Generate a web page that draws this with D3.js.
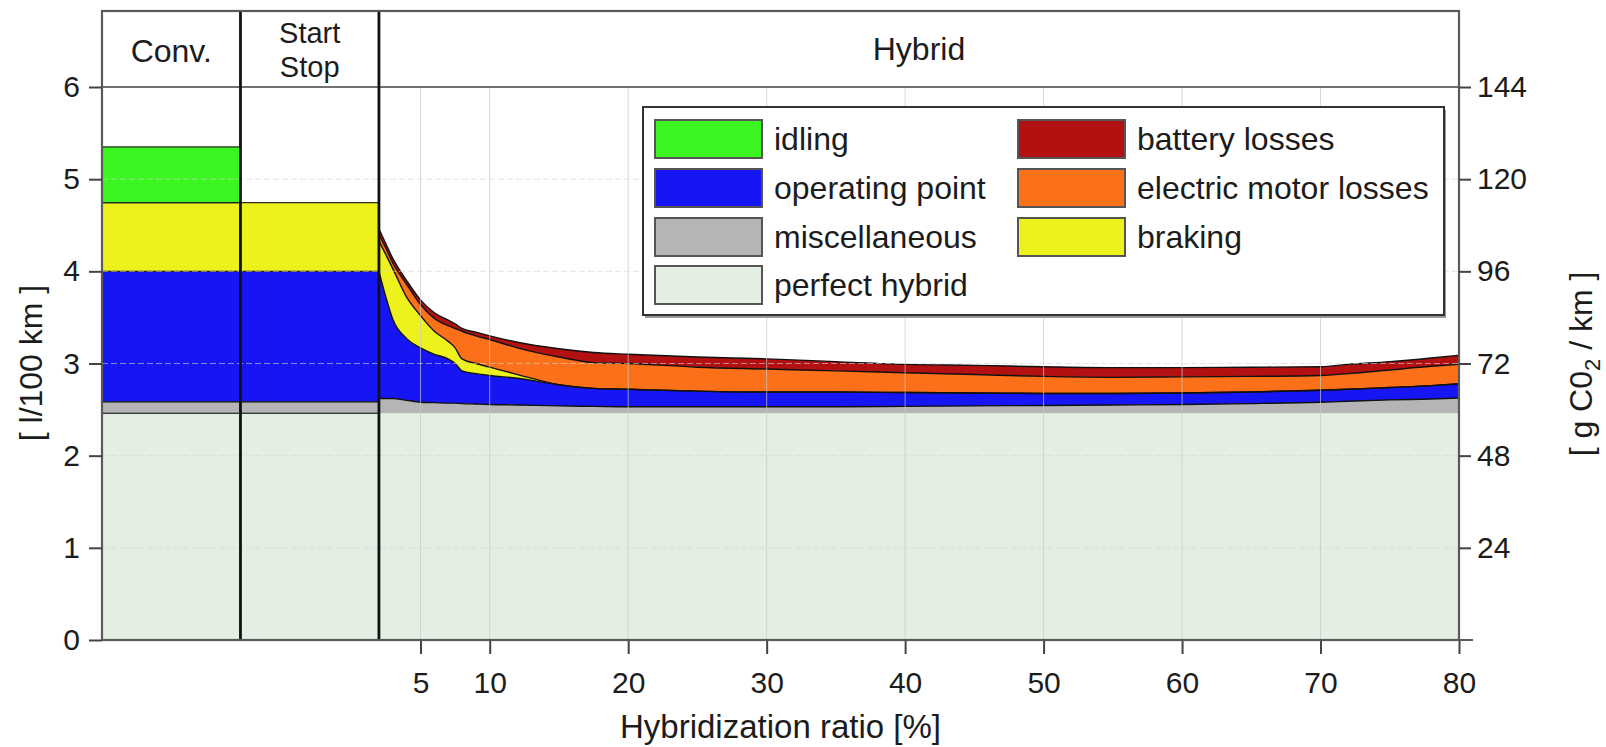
<!DOCTYPE html>
<html>
<head>
<meta charset="utf-8">
<script src="https://cdn.jsdelivr.net/npm/d3@7"></script>
<style>
  body { margin: 0; background: #fff; }
  text { font-family: "Liberation Sans", Arial, sans-serif; fill: #1c1c1c; }
</style>
</head>
<body>
<svg id="chart" width="1606" height="747"></svg>
<script>
// Conventional and start/stop vehicles (l/100 km per component)
const blockNames = ["Conv.", "Start Stop"];
const blockPerfect = [2.46, 2.46];
const blockMisc = [0.125, 0.125];
const blockOperating = [1.415, 1.415];
const blockBraking = [0.745, 0.745];
const blockIdling = [0.605, 0];

// Hybrid vehicles over hybridization ratio [%]
const hybridRatio = [2, 2.5, 3, 4, 5, 6, 7, 7.5, 8, 9, 10, 12, 15, 17.5, 20, 25, 30, 35, 40, 45, 50, 55, 60, 65, 70, 72, 75, 78, 80];
const perfectHybrid = [2.46, 2.46, 2.46, 2.46, 2.46, 2.46, 2.46, 2.46, 2.46, 2.46, 2.46, 2.46, 2.46, 2.46, 2.46, 2.46, 2.46, 2.46, 2.46, 2.46, 2.46, 2.46, 2.46, 2.46, 2.46, 2.46, 2.46, 2.46, 2.46];
const miscellaneous = [0.16, 0.16, 0.16, 0.14, 0.12, 0.115, 0.11, 0.11, 0.105, 0.10, 0.095, 0.09, 0.08, 0.075, 0.07, 0.07, 0.07, 0.07, 0.075, 0.08, 0.085, 0.09, 0.095, 0.105, 0.12, 0.13, 0.145, 0.155, 0.165];
const operatingPoint = [1.38, 1.10, 0.86, 0.67, 0.59, 0.525, 0.48, 0.43, 0.355, 0.33, 0.315, 0.29, 0.23, 0.195, 0.19, 0.17, 0.16, 0.16, 0.15, 0.14, 0.13, 0.125, 0.125, 0.125, 0.13, 0.13, 0.135, 0.145, 0.155];
const braking = [0.33, 0.46, 0.55, 0.45, 0.35, 0.25, 0.19, 0.17, 0.13, 0.11, 0.09, 0.04, 0, 0, 0, 0, 0, 0, 0, 0, 0, 0, 0, 0, 0, 0, 0, 0, 0];
const motorLosses = [0.07, 0.07, 0.06, 0.14, 0.12, 0.14, 0.17, 0.21, 0.30, 0.30, 0.30, 0.29, 0.30, 0.28, 0.28, 0.26, 0.25, 0.23, 0.215, 0.20, 0.185, 0.175, 0.175, 0.17, 0.16, 0.17, 0.19, 0.21, 0.21];
const batteryLosses = [0.06, 0.05, 0.05, 0.04, 0.05, 0.06, 0.06, 0.05, 0.03, 0.04, 0.04, 0.06, 0.09, 0.11, 0.10, 0.11, 0.11, 0.10, 0.09, 0.10, 0.105, 0.105, 0.10, 0.10, 0.095, 0.10, 0.09, 0.09, 0.10];

const xTicks = [5, 10, 20, 30, 40, 50, 60, 70, 80];
const yTicks = [0, 1, 2, 3, 4, 5, 6];
const co2Ticks = [24, 48, 72, 96, 120, 144];

const colors = {
    perfect: '#e3efe3',
    misc: '#b5b5b5',
    operating: '#1616f4',
    braking: '#eef21c',
    motor: '#fb7019',
    battery: '#b31111',
    idling: '#3af520'
};

const svg = d3.select('#chart');
const font = '"Liberation Sans", Arial, sans-serif';

// x runs -18..2 for the two reference blocks, 2..80 for hybrids
const x = d3.scaleLinear().domain([-18, 80]).range([102, 1459]);
const y = d3.scaleLinear().domain([0, 6]).range([640, 87]);
const yCo2 = d3.scaleLinear().domain([0, 144]).range([640, 87]);
const plotTop = 11;
const block = d3.scaleBand().domain(blockNames).range([x(-18), x(2)]);

// --- reference blocks
const blockLayers = [
    { key: 'perfect', values: blockPerfect },
    { key: 'misc', values: blockMisc },
    { key: 'operating', values: blockOperating },
    { key: 'braking', values: blockBraking },
    { key: 'idling', values: blockIdling }
];
const gBlocks = svg.append('g');
blockNames.forEach((name, i) => {
    let base = 0;
    blockLayers.forEach(layer => {
        const v = layer.values[i];
        if (v > 0) {
            gBlocks.append('rect')
                .attr('x', block(name))
                .attr('width', block.bandwidth())
                .attr('y', y(base + v))
                .attr('height', y(base) - y(base + v))
                .attr('fill', colors[layer.key])
                .attr('stroke', layer.key === 'perfect' ? 'none' : '#222')
                .attr('stroke-width', 1.2);
        }
        base += v;
    });
});

// --- hybrid stacked areas
const keys = ['perfect', 'misc', 'operating', 'braking', 'motor', 'battery'];
const table = hybridRatio.map((h, i) => ({
    h: h,
    perfect: perfectHybrid[i],
    misc: miscellaneous[i],
    operating: operatingPoint[i],
    braking: braking[i],
    motor: motorLosses[i],
    battery: batteryLosses[i]
}));
const stacked = d3.stack().keys(keys)(table);

const area = d3.area()
    .x(d => x(d.data.h))
    .y0(d => y(d[0]))
    .y1(d => y(d[1]))
    .curve(d3.curveMonotoneX);
const topLine = d3.line()
    .x(d => x(d.data.h))
    .y(d => y(d[1]))
    .curve(d3.curveMonotoneX);

svg.append('g').selectAll('path')
    .data(stacked)
    .join('path')
    .attr('d', area)
    .attr('fill', d => colors[d.key]);

svg.append('g').selectAll('path')
    .data(stacked.filter(s => s.key !== 'perfect'))
    .join('path')
    .attr('d', topLine)
    .attr('fill', 'none')
    .attr('stroke', '#111')
    .attr('stroke-width', 1.4)
    .attr('stroke-linejoin', 'round');

// --- grid
const grid = svg.append('g');
grid.selectAll('line.v')
    .data(xTicks.filter(t => t < 80))
    .join('line')
    .attr('x1', d => x(d)).attr('x2', d => x(d))
    .attr('y1', y(6)).attr('y2', y(0))
    .attr('stroke', '#c8c8c8')
    .attr('stroke-opacity', 0.7)
    .attr('stroke-width', 1);
grid.selectAll('line.h')
    .data(yTicks.filter(t => t > 0 && t < 6))
    .join('line')
    .attr('x1', x(-18)).attr('x2', x(80))
    .attr('y1', d => y(d)).attr('y2', d => y(d))
    .attr('stroke', '#d4d4d4')
    .attr('stroke-opacity', 0.6)
    .attr('stroke-dasharray', '6,3')
    .attr('stroke-width', 1);

// header separator at 6 l/100 km
svg.append('line')
    .attr('x1', x(-18)).attr('x2', x(80))
    .attr('y1', y(6)).attr('y2', y(6))
    .attr('stroke', '#707070')
    .attr('stroke-width', 2.2);

// section dividers
svg.append('g').selectAll('line')
    .data([-8, 2])
    .join('line')
    .attr('x1', d => x(d)).attr('x2', d => x(d))
    .attr('y1', plotTop).attr('y2', y(0))
    .attr('stroke', '#111')
    .attr('stroke-width', 2.8);

// plot frame
svg.append('rect')
    .attr('x', x(-18)).attr('y', plotTop)
    .attr('width', x(80) - x(-18))
    .attr('height', y(0) - plotTop)
    .attr('fill', 'none')
    .attr('stroke', '#5a5a5a')
    .attr('stroke-width', 2.2);

// --- axes
function styleAxis(g, size) {
    g.select('.domain').remove();
    g.selectAll('.tick line').attr('stroke', '#444').attr('stroke-width', 2);
    g.selectAll('.tick text')
        .attr('font-family', font)
        .attr('font-size', size)
        .attr('fill', '#1c1c1c');
}

svg.append('g')
    .attr('transform', `translate(${x(-18)},0)`)
    .call(d3.axisLeft(y).tickValues(yTicks).tickFormat(d3.format('d')).tickSize(13).tickPadding(9))
    .call(g => styleAxis(g, 30));

svg.append('g')
    .attr('transform', `translate(${x(80)},0)`)
    .call(d3.axisRight(yCo2).tickValues(co2Ticks).tickFormat(d3.format('d')).tickSize(12).tickPadding(6))
    .call(g => styleAxis(g, 30));

svg.append('g')
    .attr('transform', `translate(0,${y(0)})`)
    .call(d3.axisBottom(x).tickValues(xTicks).tickFormat(d3.format('d')).tickSize(14).tickPadding(18))
    .call(g => styleAxis(g, 30));

// bottom axis line runs a little past the frame
svg.append('line')
    .attr('x1', x(-18)).attr('x2', x(80) + 14)
    .attr('y1', y(0)).attr('y2', y(0))
    .attr('stroke', '#5a5a5a')
    .attr('stroke-width', 2.2);

// --- axis titles
svg.append('text')
    .attr('x', (x(-18) + x(80)) / 2)
    .attr('y', 738)
    .attr('text-anchor', 'middle')
    .attr('font-size', 33)
    .text('Hybridization ratio [%]');

svg.append('text')
    .attr('transform', 'translate(42,363) rotate(-90)')
    .attr('text-anchor', 'middle')
    .attr('font-size', 32)
    .attr('xml:space', 'preserve')
    .text('[ l/100 km ]');

const co2Title = svg.append('text')
    .attr('transform', 'translate(1592,364) rotate(-90)')
    .attr('text-anchor', 'middle')
    .attr('font-size', 32);
co2Title.append('tspan').text('[ g C0');
co2Title.append('tspan').attr('font-size', 22).attr('dy', 8).text('2');
co2Title.append('tspan').attr('dy', -8).text(' / km ]');

// --- section headers
svg.append('text')
    .attr('x', block('Conv.') + block.bandwidth() / 2)
    .attr('y', 62)
    .attr('text-anchor', 'middle')
    .attr('font-size', 32)
    .text('Conv.');
const ssX = block('Start Stop') + block.bandwidth() / 2;
svg.append('text')
    .attr('x', ssX).attr('y', 43)
    .attr('text-anchor', 'middle')
    .attr('font-size', 29)
    .text('Start');
svg.append('text')
    .attr('x', ssX).attr('y', 77)
    .attr('text-anchor', 'middle')
    .attr('font-size', 29)
    .text('Stop');
svg.append('text')
    .attr('x', (x(2) + x(80)) / 2)
    .attr('y', 60)
    .attr('text-anchor', 'middle')
    .attr('font-size', 32)
    .text('Hybrid');

// --- legend
const legendItems = [
    { key: 'idling', label: 'idling', col: 0, row: 0 },
    { key: 'operating', label: 'operating point', col: 0, row: 1 },
    { key: 'misc', label: 'miscellaneous', col: 0, row: 2 },
    { key: 'perfect', label: 'perfect hybrid', col: 0, row: 3 },
    { key: 'battery', label: 'battery losses', col: 1, row: 0 },
    { key: 'motor', label: 'electric motor losses', col: 1, row: 1 },
    { key: 'braking', label: 'braking', col: 1, row: 2 }
];
const legend = svg.append('g').attr('transform', 'translate(643,107)');
legend.append('rect')
    .attr('x', 2).attr('y', 3)
    .attr('width', 801).attr('height', 208)
    .attr('fill', '#999');
legend.append('rect')
    .attr('width', 801).attr('height', 208)
    .attr('fill', '#fff')
    .attr('stroke', '#333')
    .attr('stroke-width', 2);
const colX = [12, 375];
const rowY = [32, 81, 130, 178];
const items = legend.selectAll('g.item')
    .data(legendItems)
    .join('g')
    .attr('transform', d => `translate(${colX[d.col]},${rowY[d.row]})`);
items.append('rect')
    .attr('x', 0).attr('y', -19)
    .attr('width', 107).attr('height', 38)
    .attr('fill', d => colors[d.key])
    .attr('stroke', '#555')
    .attr('stroke-width', 2);
items.append('text')
    .attr('x', 119)
    .attr('y', 11)
    .attr('font-size', 32)
    .text(d => d.label);
</script>
</body>
</html>
